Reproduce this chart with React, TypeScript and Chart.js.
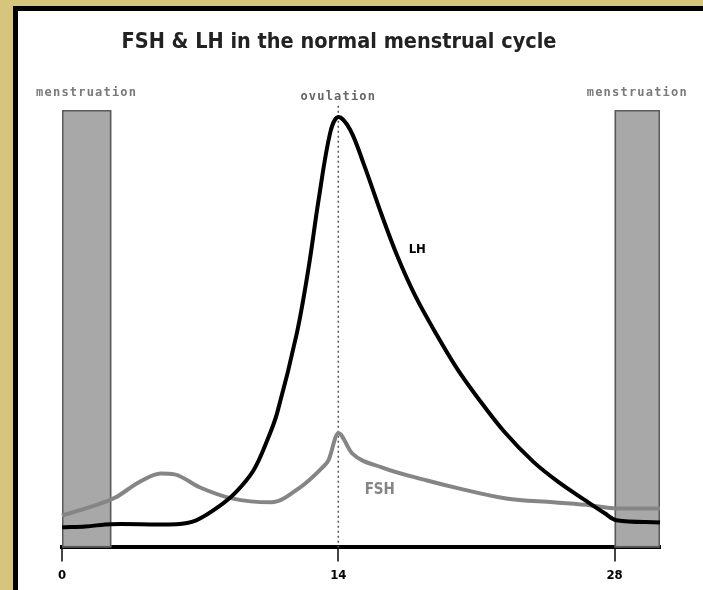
import React, { useEffect, useRef } from 'react';
import { Chart, registerables } from 'chart.js';

Chart.register(...registerables);

// ---- data ----
const titleText = 'FSH & LH in the normal menstrual cycle';
const tickDays = [0, 14, 28];

const lhDays = [0, 1.2, 2.5, 5.8, 6.8, 7.9, 8.8, 9.7, 10.4, 10.9, 11.9, 12.5, 13.0, 13.6, 14, 14.6, 15.3, 16.2, 17.0, 17.9, 19.0, 20.0, 21.1, 22.4, 23.9, 25.2, 26.5, 27.5, 28.1, 30.3];
const lhValues = [4.6, 4.8, 5.3, 5.3, 6.2, 9.2, 12.6, 17.6, 24.5, 30.7, 49.0, 64.1, 79.4, 95.0, 98.4, 95.5, 87.5, 76.0, 66.5, 57.5, 48.5, 41.0, 34.0, 26.5, 19.5, 14.8, 10.8, 7.8, 6.2, 5.7];

const fshDays = [0, 1.2, 2.7, 3.9, 5.0, 5.7, 7.0, 8.6, 10.6, 12.0, 13.2, 13.5, 14, 14.7, 16.2, 18.5, 20.1, 22.5, 24.9, 26.8, 28.1, 30.3];
const fshValues = [7.3, 8.9, 11.4, 14.9, 16.9, 16.7, 13.7, 11.2, 10.3, 13.5, 18.3, 19.9, 26.1, 21.5, 18.3, 15.3, 13.5, 11.2, 10.3, 9.6, 8.9, 8.9];

const menstruationStart = [0, 28];
const menstruationEnd = [2.5, 30.3];
const menstruationTop = [100, 100];
const menstruationLabel = 'menstruation';

const ovulationDay = 14;
const ovulationTop = 101;
const ovulationLabel = 'ovulation';

const seriesLabels = ['LH', 'FSH'];
const seriesLabelDays = [18.0, 16.1];
const seriesLabelValues = [68, 13];

const dayMin = 0;
const dayMax = 30.3;

const LH_COLOR = '#000000';
const FSH_COLOR = '#858585';

const overlayPlugin = {
  id: 'overlay',
  beforeDatasetsDraw(chart: any) {
    const { ctx, chartArea, scales } = chart;
    const x = scales.x;
    const y = scales.y;
    ctx.save();
    // menstruation bars
    for (let i = 0; i < menstruationStart.length; i++) {
      const x0 = x.getPixelForValue(menstruationStart[i]);
      const x1 = x.getPixelForValue(menstruationEnd[i]);
      const yt = y.getPixelForValue(menstruationTop[i]);
      const yb = y.getPixelForValue(0);
      ctx.fillStyle = '#a8a8a8';
      ctx.fillRect(x0, yt, x1 - x0, yb - yt);
      ctx.strokeStyle = '#5a5a5a';
      ctx.lineWidth = 1.5;
      ctx.strokeRect(x0 + 0.75, yt + 0.75, x1 - x0 - 1.5, yb - yt - 1.5);
      ctx.fillStyle = '#7a7a7a';
      ctx.font = 'bold 12px "DejaVu Sans Mono", monospace';
      (ctx as any).letterSpacing = '1.2px';
      ctx.textAlign = 'center';
      ctx.textBaseline = 'middle';
      ctx.fillText(menstruationLabel, (x0 + x1) / 2, yt - 17);
    }
    // ovulation dotted line
    const ox = x.getPixelForValue(ovulationDay);
    ctx.strokeStyle = '#555555';
    ctx.lineWidth = 1.5;
    ctx.setLineDash([2, 3]);
    ctx.beginPath();
    ctx.moveTo(ox, y.getPixelForValue(ovulationTop));
    ctx.lineTo(ox, y.getPixelForValue(0));
    ctx.stroke();
    ctx.setLineDash([]);
    ctx.fillStyle = '#666666';
    ctx.font = 'bold 12px "DejaVu Sans Mono", monospace';
    (ctx as any).letterSpacing = '1.2px';
    ctx.textAlign = 'center';
    ctx.textBaseline = 'middle';
    ctx.fillText(ovulationLabel, ox, chartArea.top - 13);
    ctx.restore();
  },
  afterDatasetsDraw(chart: any) {
    const { ctx, scales } = chart;
    ctx.save();
    ctx.textAlign = 'center';
    ctx.textBaseline = 'middle';
    const colors = [LH_COLOR, FSH_COLOR];
    const sizes = [13, 15];
    for (let i = 0; i < seriesLabels.length; i++) {
      ctx.fillStyle = colors[i];
      ctx.font = `bold ${sizes[i]}px "DejaVu Sans Condensed", sans-serif`;
      ctx.fillText(seriesLabels[i], scales.x.getPixelForValue(seriesLabelDays[i]), scales.y.getPixelForValue(seriesLabelValues[i]));
    }
    // chart title
    ctx.fillStyle = '#222222';
    ctx.font = 'bold 21.5px "DejaVu Sans Condensed", "Liberation Sans Narrow", sans-serif';
    ctx.fillText(titleText, 321, 31);
    ctx.restore();
  },
};

export default function App() {
  const ref = useRef<HTMLCanvasElement>(null);

  useEffect(() => {
    if (!ref.current) return;
    const chart = new Chart(ref.current, {
      type: 'line',
      data: {
        datasets: [
          {
            label: 'LH',
            data: lhDays.map((d, i) => ({ x: d, y: lhValues[i] })),
            borderColor: LH_COLOR,
            borderWidth: 4,
            pointRadius: 0,
            tension: 0.35,
            fill: false,
          },
          {
            label: 'FSH',
            data: fshDays.map((d, i) => ({ x: d, y: fshValues[i] })),
            borderColor: FSH_COLOR,
            borderWidth: 4,
            pointRadius: 0,
            cubicInterpolationMode: 'monotone',
            fill: false,
          },
        ],
      },
      options: {
        responsive: false,
        animation: false,
        clip: false as any,
        layout: { padding: { left: 44, right: 43, top: 99, bottom: 1 } },
        plugins: {
          legend: { display: false },
          tooltip: { enabled: false },
          title: { display: false },
        },
        scales: {
          x: {
            type: 'linear',
            min: dayMin,
            max: dayMax,
            afterBuildTicks: (s: any) => {
              s.ticks = tickDays.map((v) => ({ value: v }));
            },
            grid: {
              display: true,
              drawOnChartArea: false,
              drawTicks: true,
              tickLength: 14,
              color: '#444444',
              lineWidth: 2,
            },
            border: { display: true, color: '#000000', width: 4 },
            ticks: {
              color: '#000000',
              padding: 6,
              maxRotation: 0,
              font: { family: '"DejaVu Sans Condensed", sans-serif', size: 13, weight: 'bold' },
              callback: (v: any) => String(v),
            },
          },
          y: {
            type: 'linear',
            min: 0,
            max: 100,
            display: false,
          },
        },
      },
      plugins: [overlayPlugin],
    });
    return () => chart.destroy();
  }, []);

  return (
    <div style={{ position: 'fixed', left: 0, top: 0, width: 703, height: 590, background: '#d6c57d', overflow: 'hidden' }}>
      <div style={{ position: 'absolute', left: 13, top: 6, right: 0, bottom: 0, background: '#000000' }} />
      <div style={{ position: 'absolute', left: 18, top: 11, width: 685, height: 579, background: '#ffffff' }}>
        <canvas ref={ref} width={685} height={579} style={{ display: 'block' }} />
      </div>
    </div>
  );
}
